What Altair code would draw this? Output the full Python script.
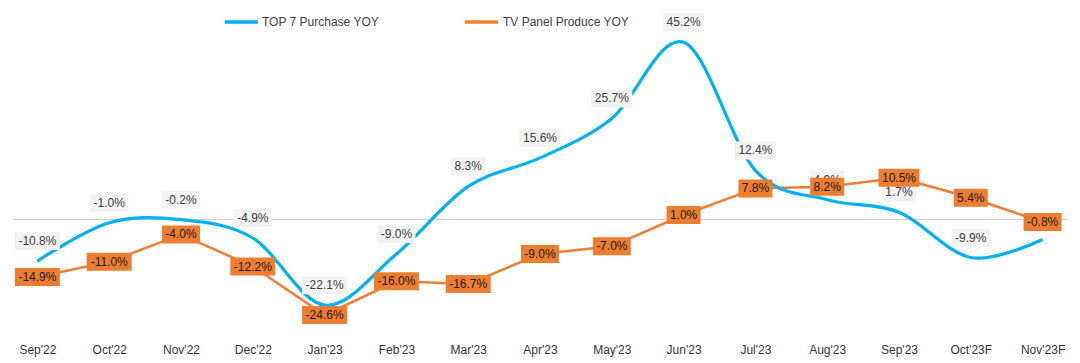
import altair as alt
import pandas as pd

months = ["Sep'22", "Oct'22", "Nov'22", "Dec'22", "Jan'23", "Feb'23", "Mar'23",
          "Apr'23", "May'23", "Jun'23", "Jul'23", "Aug'23", "Sep'23", "Oct'23F", "Nov'23F"]
purchase = [-10.8, -1.0, -0.2, -4.9, -22.1, -9.0, 8.3, 15.6, 25.7, 45.2, 12.4, 4.9, 1.7, -9.9, -5.3]
purchase_labels = ["-10.8%", "-1.0%", "-0.2%", "-4.9%", "-22.1%", "-9.0%", "8.3%", "15.6%",
                   "25.7%", "45.2%", "12.4%", "4.9%", "1.7%", "-9.9%", ""]
produce = [-14.9, -11.0, -4.0, -12.2, -24.6, -16.0, -16.7, -9.0, -7.0, 1.0, 7.8, 8.2, 10.5, 5.4, -0.8]
produce_labels = ["-14.9%", "-11.0%", "-4.0%", "-12.2%", "-24.6%", "-16.0%", "-16.7%", "-9.0%",
                  "-7.0%", "1.0%", "7.8%", "8.2%", "10.5%", "5.4%", "-0.8%"]
series_names = ["TOP 7 Purchase YOY", "TV Panel Produce YOY"]
series_colors = ["#00B0F0", "#ED7D31"]

FONT = "Liberation Sans"


def label_width(s):
    # approximate rendered width of the label text (Arial 12px) plus box padding
    glyph = {"-": 4.0, ".": 3.33, "%": 10.67}
    return int(round(7 + sum(glyph.get(c, 6.67) for c in s)))


rows = []
for m, v, lab in zip(months, purchase, purchase_labels):
    rows.append({"month": m, "series": series_names[0], "value": v, "lab": lab,
                 "w": label_width(lab)})
for m, v, lab in zip(months, produce, produce_labels):
    rows.append({"month": m, "series": series_names[1], "value": v, "lab": lab,
                 "w": label_width(lab)})
df = pd.DataFrame(rows)

base = alt.Chart(df)

x = alt.X("month:N", scale=alt.Scale(type="point", domain=months, padding=0.34),
          axis=alt.Axis(title=None, ticks=False, domain=False, grid=False, labelAngle=0,
                        labelPadding=6, labelFont=FONT, labelFontSize=12,
                        labelColor="#333333"))
y = alt.Y("value:Q", scale=alt.Scale(domain=[-30.5, 52.7], nice=False, zero=False),
          axis=alt.Axis(values=[0], grid=True, gridColor="#D0D0D0", gridWidth=1,
                        labels=False, ticks=False, domain=False, title=None))

is_blue = f"datum.series == '{series_names[0]}'"
is_orange = f"datum.series == '{series_names[1]}'"

orange_line = base.transform_filter(is_orange).mark_line(
    strokeWidth=2.5, color=series_colors[1]).encode(x=x, y=y)
blue_line = base.transform_filter(is_blue).mark_line(
    strokeWidth=3.2, interpolate="cardinal", color=series_colors[0]).encode(x=x, y=y)

layers = [orange_line, blue_line]


def boxes(filter_expr, fill, dy):
    out = []
    sub = df[df["lab"] != ""]
    for w in sorted(set(int(v) for v in sub["w"])):
        out.append(
            base.transform_filter(filter_expr)
            .transform_filter(f"datum.w == {w} && datum.lab != ''")
            .mark_tick(color=fill, size=w, thickness=18, yOffset=dy, opacity=1)
            .encode(x=x, y=y)
        )
    return out


layers += boxes(is_blue, "#F2F2F2", -20)
layers.append(base.transform_filter(is_blue).transform_filter("datum.lab != ''").mark_text(
    font=FONT, fontSize=12, color="#404040", baseline="middle", dy=-20).encode(
    x=x, y=y, text="lab:N"))

layers += boxes(is_orange, "#ED7D31", 0)
layers.append(base.transform_filter(is_orange).mark_text(
    font=FONT, fontSize=12, color="#1A1A1A", baseline="middle").encode(
    x=x, y=y, text="lab:N"))

# legend (drawn with plain marks)
legend_positions = [(212, 245, 249), (452, 485, 490)]
for name, col, (x0, x1, tx) in zip(series_names, series_colors, legend_positions):
    ldf = pd.DataFrame({"series": [name]})
    layers.append(alt.Chart(ldf).mark_rule(color=col, strokeWidth=3.5).encode(
        x=alt.value(x0), x2=alt.value(x1), y=alt.value(9)))
    layers.append(alt.Chart(ldf).mark_text(font=FONT, fontSize=12, color="#404040",
                                           align="left", baseline="middle").encode(
        x=alt.value(tx), y=alt.value(9), text="series:N"))

chart = alt.layer(*layers).properties(
    width=1054, height=325
).configure_view(strokeWidth=0)

chart.save("out.html", embed_options={"renderer": "svg", "actions": False})
